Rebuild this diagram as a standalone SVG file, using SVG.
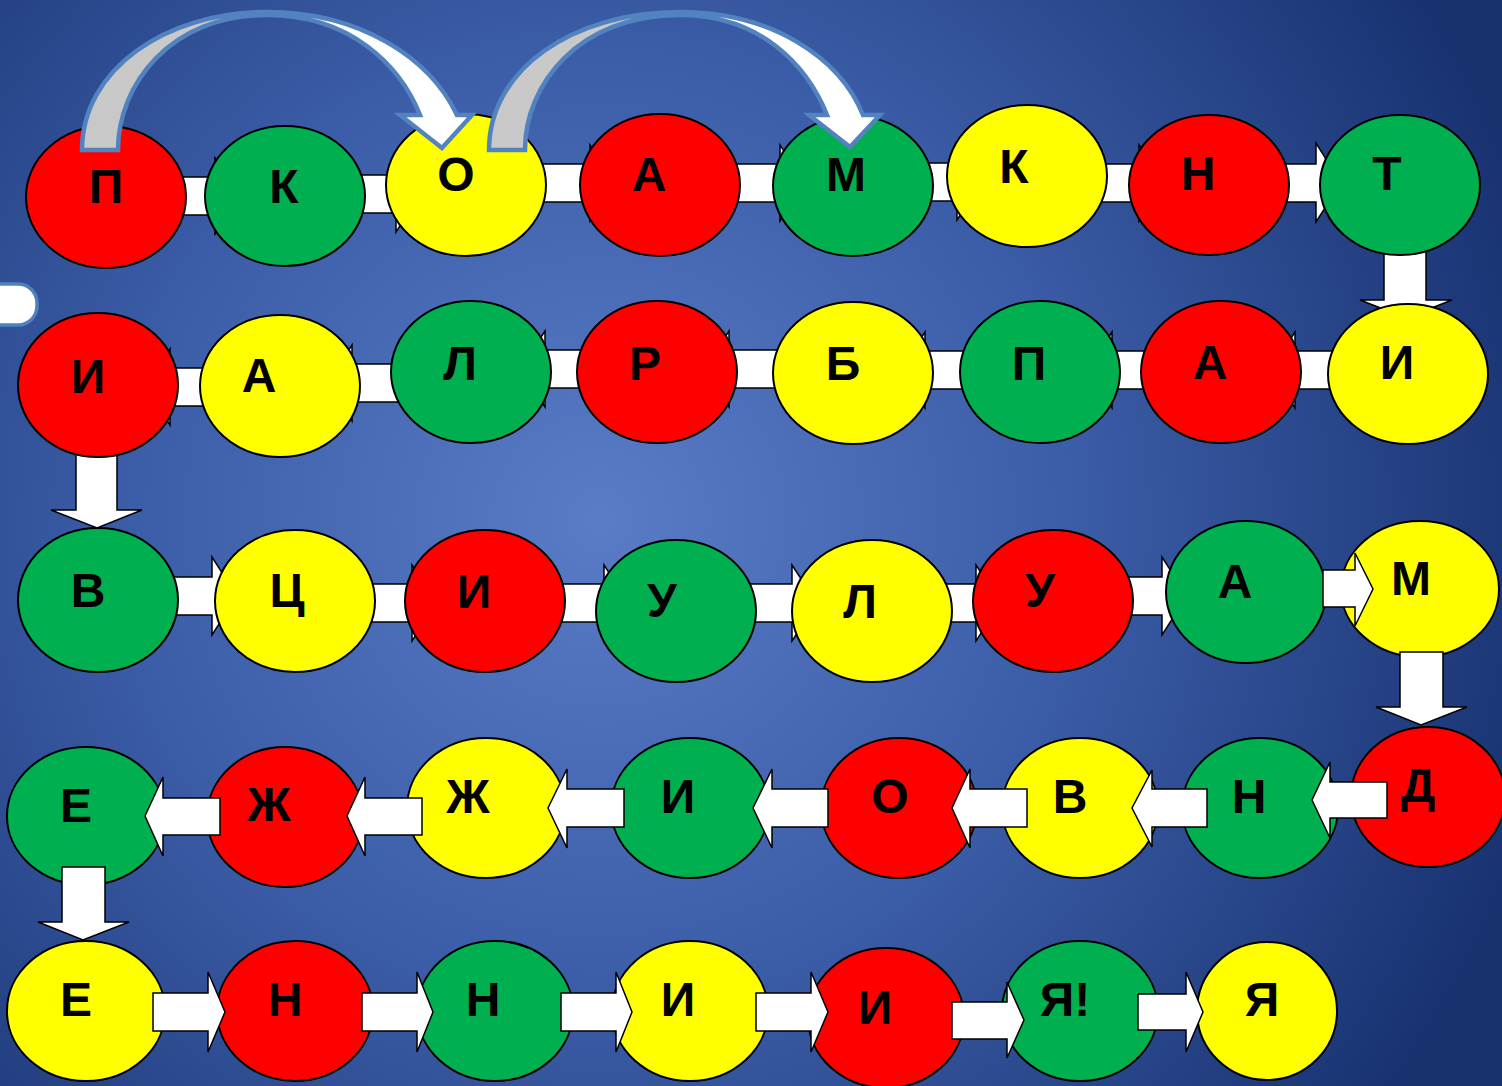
<svg xmlns="http://www.w3.org/2000/svg" width="1502" height="1086" viewBox="0 0 1502 1086">
<defs>
<radialGradient id="bg" gradientUnits="userSpaceOnUse" cx="600" cy="520" r="980">
<stop offset="0" stop-color="#5a7bc6"/>
<stop offset="0.5" stop-color="#3a5ba5"/>
<stop offset="1" stop-color="#183270"/>
</radialGradient>
<linearGradient id="cg" x1="0" y1="0" x2="1" y2="0">
<stop offset="0" stop-color="#c8c8c8"/>
<stop offset="0.42" stop-color="#cacaca"/>
<stop offset="0.56" stop-color="#ffffff"/>
<stop offset="1" stop-color="#ffffff"/>
</linearGradient>
</defs>
<style>
ellipse{stroke:#000;stroke-width:2}
.r{fill:#ff0000}.g{fill:#00b050}.y{fill:#ffff00}
.ar{fill:#fff;stroke:#000;stroke-width:1.5;stroke-linejoin:miter}
.cv{fill:url(#cg);stroke:#5283c0;stroke-width:4.5;stroke-linejoin:miter}
text{font-family:"Liberation Sans",Arial,sans-serif;font-weight:bold;font-size:48px;fill:#000;text-anchor:middle}
</style>
<rect width="1502" height="1086" fill="url(#bg)"/>
<rect x="-30" y="284" width="67" height="41" rx="19" fill="#fff" stroke="#4f81bd" stroke-width="3.5"/>
<g id="connectors-back">
<polygon class="ar" points="150,177 215,177 215,158 240,196 215,234 215,215 150,215"/>
<polygon class="ar" points="330,175 396,175 396,156 421,194 396,232 396,213 330,213"/>
<polygon class="ar" points="520,164 590,164 590,145 615,183 590,221 590,202 520,202"/>
<polygon class="ar" points="710,164 780,164 780,145 805,183 780,221 780,202 710,202"/>
<polygon class="ar" points="900,163 957,163 957,144 982,182 957,220 957,201 900,201"/>
<polygon class="ar" points="1080,164 1139,164 1139,145 1164,183 1139,221 1139,202 1080,202"/>
<polygon class="ar" points="1260,164 1316,164 1316,143 1341,183 1316,222 1316,202 1260,202"/>
<polygon class="ar" points="1384,250 1426,250 1426,300 1452,300 1406,318 1360,300 1384,300"/>
<polygon class="ar" points="1350,351 1295,351 1295,332 1270,370 1295,408 1295,389 1350,389"/>
<polygon class="ar" points="1160,351 1112,351 1112,332 1087,370 1112,408 1112,389 1160,389"/>
<polygon class="ar" points="980,351 925,351 925,332 900,370 925,408 925,389 980,389"/>
<polygon class="ar" points="790,350 729,350 729,331 704,369 729,407 729,388 790,388"/>
<polygon class="ar" points="600,350 545,350 545,331 520,369 545,407 545,388 600,388"/>
<polygon class="ar" points="410,364 352,364 352,345 327,383 352,421 352,402 410,402"/>
<polygon class="ar" points="220,368 170,368 170,349 145,387 170,425 170,406 220,406"/>
<polygon class="ar" points="76,450 117,450 117,510 142,510 97,528 51,510 76,510"/>
<polygon class="ar" points="150,577 212,577 212,557 237,596 212,635 212,615 150,615"/>
<polygon class="ar" points="350,584 412,584 412,565 437,603 412,641 412,622 350,622"/>
<polygon class="ar" points="540,584 604,584 604,565 629,603 604,641 604,622 540,622"/>
<polygon class="ar" points="730,584 792,584 792,565 817,603 792,641 792,622 730,622"/>
<polygon class="ar" points="930,584 976,584 976,565 1001,603 976,641 976,622 930,622"/>
<polygon class="ar" points="1110,577 1162,577 1162,557 1187,596 1162,635 1162,615 1110,615"/>
</g>
<g id="n1"><ellipse class="r" cx="106" cy="197" rx="80" ry="71"/><text x="106" y="203">П</text></g>
<g id="n2"><ellipse class="g" cx="285" cy="196" rx="80" ry="70"/><text x="284" y="203">К</text></g>
<g id="n3"><ellipse class="y" cx="466" cy="185" rx="80" ry="71"/><text x="456" y="191">О</text></g>
<g id="n4"><ellipse class="r" cx="660" cy="185" rx="80" ry="71"/><text x="649" y="191">А</text></g>
<g id="n5"><ellipse class="g" cx="853" cy="186" rx="80" ry="70"/><text x="846" y="191">М</text></g>
<g id="n6"><ellipse class="y" cx="1027" cy="176" rx="80" ry="71"/><text x="1014" y="183">К</text></g>
<g id="n7"><ellipse class="r" cx="1209" cy="185" rx="80" ry="70"/><text x="1198" y="190">Н</text></g>
<g id="n8"><ellipse class="g" cx="1400" cy="185" rx="80" ry="70"/><text x="1387" y="190">Т</text></g>
<g id="n9"><ellipse class="r" cx="98" cy="385" rx="80" ry="72"/><text x="88" y="393">И</text></g>
<g id="n10"><ellipse class="y" cx="280" cy="386" rx="80" ry="71"/><text x="259" y="392">А</text></g>
<g id="n11"><ellipse class="g" cx="471" cy="372" rx="80" ry="71"/><text x="460" y="380">Л</text></g>
<g id="n12"><ellipse class="r" cx="657" cy="372" rx="80" ry="71"/><text x="645" y="380">Р</text></g>
<g id="n13"><ellipse class="y" cx="853" cy="373" rx="80" ry="71"/><text x="843" y="380">Б</text></g>
<g id="n14"><ellipse class="g" cx="1040" cy="372" rx="80" ry="71"/><text x="1029" y="380">П</text></g>
<g id="n15"><ellipse class="r" cx="1221" cy="372" rx="80" ry="71"/><text x="1210" y="379">А</text></g>
<g id="n16"><ellipse class="y" cx="1408" cy="374" rx="80" ry="70"/><text x="1397" y="379">И</text></g>
<g id="n17"><ellipse class="g" cx="98" cy="600" rx="80" ry="72"/><text x="88" y="607">В</text></g>
<g id="n18"><ellipse class="y" cx="295" cy="601" rx="80" ry="71"/><text x="287" y="607">Ц</text></g>
<g id="n19"><ellipse class="r" cx="485" cy="601" rx="80" ry="71"/><text x="474" y="608">И</text></g>
<g id="n20"><ellipse class="g" cx="676" cy="611" rx="80" ry="71"/><text x="662" y="617">У</text></g>
<g id="n21"><ellipse class="y" cx="872" cy="611" rx="80" ry="71"/><text x="860" y="618">Л</text></g>
<g id="n22"><ellipse class="r" cx="1053" cy="601" rx="80" ry="71"/><text x="1040" y="607">У</text></g>
<g id="n23"><ellipse class="g" cx="1246" cy="592" rx="80" ry="71"/><text x="1235" y="598">А</text></g>
<g id="n24"><ellipse class="y" cx="1420" cy="589" rx="79" ry="68"/><text x="1411" y="595">М</text></g>
<g id="n25"><ellipse class="g" cx="86" cy="816" rx="79" ry="69"/><text x="76" y="822">Е</text></g>
<g id="n26"><ellipse class="r" cx="285" cy="817" rx="78" ry="70"/><text x="269" y="821">Ж</text></g>
<g id="n27"><ellipse class="y" cx="486" cy="808" rx="79" ry="70"/><text x="468" y="813">Ж</text></g>
<g id="n28"><ellipse class="g" cx="690" cy="808" rx="79" ry="70"/><text x="678" y="813">И</text></g>
<g id="n29"><ellipse class="r" cx="899" cy="808" rx="78" ry="70"/><text x="890" y="813">О</text></g>
<g id="n30"><ellipse class="y" cx="1080" cy="808" rx="78" ry="70"/><text x="1070" y="813">В</text></g>
<g id="n31"><ellipse class="g" cx="1260" cy="808" rx="78" ry="70"/><text x="1249" y="813">Н</text></g>
<g id="n32"><ellipse class="r" cx="1428" cy="797" rx="77" ry="70"/><text x="1418" y="802">Д</text></g>
<g id="n33"><ellipse class="y" cx="86" cy="1011" rx="79" ry="70"/><text x="76" y="1016">Е</text></g>
<g id="n34"><ellipse class="r" cx="295" cy="1011" rx="78" ry="70"/><text x="285" y="1016">Н</text></g>
<g id="n35"><ellipse class="g" cx="495" cy="1011" rx="78" ry="70"/><text x="483" y="1016">Н</text></g>
<g id="n36"><ellipse class="y" cx="690" cy="1011" rx="78" ry="70"/><text x="678" y="1016">И</text></g>
<g id="n37"><ellipse class="r" cx="886" cy="1018" rx="78" ry="70"/><text x="875" y="1024">И</text></g>
<g id="n38"><ellipse class="g" cx="1080" cy="1011" rx="78" ry="70"/><text x="1065" y="1016">Я!</text></g>
<g id="n39"><ellipse class="y" cx="1267" cy="1011" rx="70" ry="69"/><text x="1262" y="1016">Я</text></g>
<g id="connectors-front">
<polygon class="ar" points="1323,570 1355,570 1355,553 1373,589 1355,626 1355,607 1323,607"/>
<polygon class="ar" points="1400,652 1443,652 1443,707 1467,707 1421,725 1376,707 1400,707"/>
<polygon class="ar" points="1387,782 1330,782 1330,762 1312,800 1330,838 1330,818 1387,818"/>
<polygon class="ar" points="1207,789 1152,789 1152,770 1132,808 1152,847 1152,827 1207,827"/>
<polygon class="ar" points="1027,789 970,789 970,769 952,808 970,848 970,827 1027,827"/>
<polygon class="ar" points="828,789 772,789 772,769 753,808 772,848 772,827 828,827"/>
<polygon class="ar" points="624,789 567,789 567,769 548,808 567,848 567,827 624,827"/>
<polygon class="ar" points="422,798 365,798 365,777 347,816 365,856 365,835 422,835"/>
<polygon class="ar" points="220,798 163,798 163,777 145,816 163,856 163,835 220,835"/>
<polygon class="ar" points="62,867 105,867 105,922 129,922 83,940 38,922 62,922"/>
<polygon class="ar" points="153,993 208,993 208,972 225,1012 208,1052 208,1031 153,1031"/>
<polygon class="ar" points="362,993 417,993 417,972 433,1012 417,1052 417,1031 362,1031"/>
<polygon class="ar" points="561,993 616,993 616,972 632,1012 616,1052 616,1031 561,1031"/>
<polygon class="ar" points="756,993 811,993 811,972 828,1012 811,1052 811,1031 756,1031"/>
<polygon class="ar" points="952,1002 1007,1002 1007,982 1024,1020 1007,1058 1007,1039 952,1039"/>
<polygon class="ar" points="1138,994 1186,994 1186,972 1203,1012 1186,1052 1186,1030 1138,1030"/>
<path class="cv" d="M82,150 C82,70 165,12 267,12 C360,12 430,58 457,115 L472,115 L442,148 L400,115 L420,115 C400,65 350,15 267,15 C170,15 118,85 118,150 Z"/>
<path class="cv" d="M489,150 C489,70 572,12 680,12 C772,12 840,58 863,115 L880,115 L850,147 L809,115 L827,115 C807,65 760,15 680,15 C578,15 525,85 525,150 Z"/>
</g>
</svg>
